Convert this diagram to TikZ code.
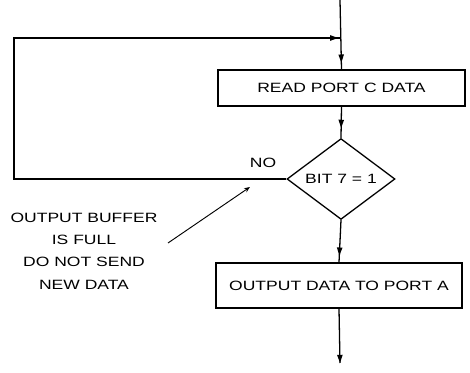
\documentclass[tikz,border=0pt]{standalone}
\usepackage{fontspec}
\setmainfont{Liberation Sans}[FakeStretch=1.3]
\usetikzlibrary{shapes.geometric,arrows.meta,decorations.markings}

\tikzset{
    flow/.style={line width=1.1pt},
    procbox/.style={draw, line width=1.1pt, rectangle, inner sep=0pt, font=\fontsize{11.5}{13}\selectfont},
    testbox/.style={draw, line width=1.1pt, diamond, inner sep=0pt, minimum width=3.24cm, minimum height=1.68cm, font=\fontsize{11.5}{13}\selectfont},
    tipat/.style={postaction={decorate}, decoration={markings, mark=at position #1 with {\arrow{Triangle[width=4.5pt,length=7pt]}}}}
}

\begin{document}
\begin{tikzpicture} [x=0.03cm, y=-0.03cm]
    \useasboundingbox (0,0) rectangle (470,373);

    \coordinate (entry) at (340,0);
    \coordinate (join) at (340,38);
    \coordinate (exit) at (340,363);

    \node[procbox, minimum width=7.41cm, minimum height=1.08cm] (readc) at (341.5,88) {READ PORT C DATA};
    \node[testbox] (bitchk) at (341,179) {BIT 7 = 1};
    \node[procbox, minimum width=7.38cm, minimum height=1.35cm] (outa) at (339,285.5) {OUTPUT DATA TO PORT A};

    \node[font=\fontsize{11.5}{13}\selectfont] (nolab) at (263,163) {NO};
    \node[align=center, font=\fontsize{11.5}{19}\selectfont] (note) at (84,251) {OUTPUT BUFFER\\IS FULL\\DO NOT SEND\\NEW DATA};
    \coordinate (notetail) at (168,243);
    \coordinate (notehead) at (250,187);

    % main line down the page
    \draw[flow, tipat=-0.2cm] (entry) -- (readc.north);
    \draw[flow, tipat=-0.3cm] (readc.south) -- (bitchk.north);
    \draw[flow, tipat=-0.2cm] (bitchk.south) -- (outa.north);
    \draw[flow, tipat=1] (outa.south) -- (exit);

    % NO branch goes back round
    \draw[flow, tipat=-0.05cm] (bitchk.west) -- (14,179) -- (14,38) -- (join);

    \draw[line width=0.8pt, -{Stealth[length=5pt,width=4pt]}] (notetail) -- (notehead);
\end{tikzpicture}
\end{document}
